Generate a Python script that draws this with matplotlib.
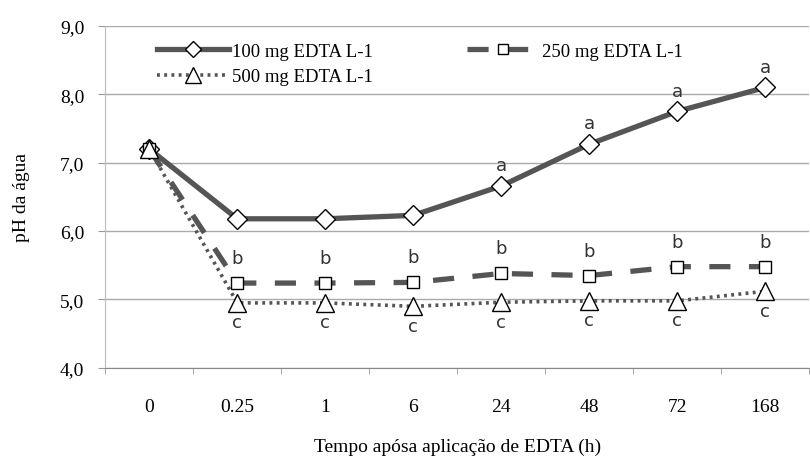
import matplotlib.pyplot as plt
import numpy as np

plt.rcParams['font.family'] = ['Liberation Serif', 'DejaVu Serif']

# dados
tempos = ['0', '0.25', '1', '6', '24', '48', '72', '168']
ph_100 = [7.2, 6.18, 6.18, 6.23, 6.66, 7.27, 7.75, 8.1]
ph_250 = [7.2, 5.24, 5.24, 5.25, 5.38, 5.35, 5.48, 5.48]
ph_500 = [7.2, 4.95, 4.95, 4.9, 4.96, 4.98, 4.98, 5.12]
letras_100 = ['', '', '', '', 'a', 'a', 'a', 'a']
letras_250 = ['', 'b', 'b', 'b', 'b', 'b', 'b', 'b']
letras_500 = ['', 'c', 'c', 'c', 'c', 'c', 'c', 'c']

cor = '#555555'
x = np.arange(len(tempos))

fig = plt.figure(figsize=(8.1, 4.64), dpi=100)
ax = fig.add_axes([0.13, 0.205, 0.869, 0.737])

l1, = ax.plot(x, ph_100, color=cor, lw=3.8, marker='D', ms=10, mfc='white',
              mec='black', mew=1, label='100 mg EDTA L-1', zorder=3)
l2, = ax.plot(x, ph_250, color=cor, lw=3.8, ls=(0, (4, 3.5)), marker='s', ms=9,
              mfc='white', mec='black', mew=1, label='250 mg EDTA L-1', zorder=4)
l3, = ax.plot(x, ph_500, color=cor, lw=2.6, ls=(0, (0.8, 1.2)), marker='^', ms=13,
              mfc='white', mec='black', mew=1, label='500 mg EDTA L-1', zorder=5)

# letras de significancia
for i in x:
    if letras_100[i]:
        ax.annotate(letras_100[i], (i, ph_100[i]), xytext=(0, 15),
                    textcoords='offset points', ha='center', va='center',
                    fontsize=13, family='DejaVu Sans', color='#333333')
    if letras_250[i]:
        ax.annotate(letras_250[i], (i, ph_250[i]), xytext=(0, 18),
                    textcoords='offset points', ha='center', va='center',
                    fontsize=13, family='DejaVu Sans', color='#333333')
    if letras_500[i]:
        ax.annotate(letras_500[i], (i, ph_500[i]), xytext=(0, -14),
                    textcoords='offset points', ha='center', va='center',
                    fontsize=13, family='DejaVu Sans', color='#333333')

ax.set_xlim(-0.5, len(tempos) - 0.5)
ax.set_ylim(4, 9)
ax.set_yticks([4, 5, 6, 7, 8, 9])
ax.set_yticklabels(['4,0', '5,0', '6,0', '7,0', '8,0', '9,0'])
ax.set_xticks(x)
ax.set_xticklabels(tempos)
ax.set_xticks(np.arange(len(tempos) + 1) - 0.5, minor=True)
ax.tick_params(axis='x', which='major', length=0, pad=22, labelsize=14)
ax.tick_params(axis='x', which='minor', length=4, color='#999999')
ax.tick_params(axis='y', length=5, color='#999999', pad=10, labelsize=14)

ax.grid(axis='y', color='#aaaaaa', lw=1)
ax.set_axisbelow(True)
for s in ['top', 'right']:
    ax.spines[s].set_visible(False)
ax.spines['left'].set_color('#bbbbbb')
ax.spines['bottom'].set_color('#888888')

ax.set_ylabel('pH da água', fontsize=14, labelpad=22)
ax.set_xlabel('Tempo apósa aplicação de EDTA (h)', fontsize=14, labelpad=16)

ax.legend([l1, l3, l2], [l1.get_label(), l3.get_label(), l2.get_label()],
          loc='upper left', bbox_to_anchor=(0.05, 1.0), ncol=2, frameon=False,
          fontsize=13.5, handlelength=3.8, columnspacing=5.0, handletextpad=0.2,
          labelspacing=0.45, markerscale=0.85)

fig.savefig('out.png', dpi=100)
